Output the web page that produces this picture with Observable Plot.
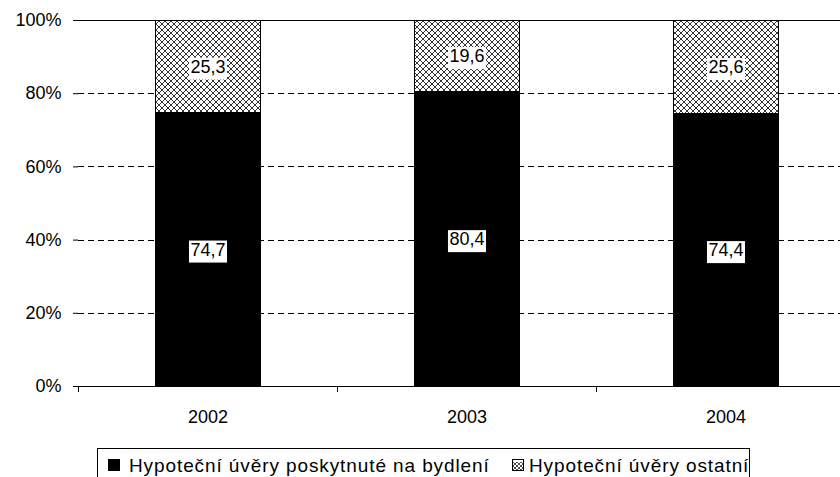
<!DOCTYPE html>
<html><head><meta charset="utf-8">
<script src="https://cdn.jsdelivr.net/npm/d3@7"></script>
<script src="https://cdn.jsdelivr.net/npm/@observablehq/plot@0.6"></script>
<style>
body{margin:0;background:#fff;font-family:"Liberation Sans",Arial,sans-serif;}
#wrap{position:relative;width:840px;height:477px;overflow:hidden;background:#fff}
#legend{position:absolute;left:97px;top:448px;width:653px;height:40px;border:1px solid #000;box-sizing:border-box;}
.lg-sw{position:absolute;top:10px;width:12px;height:12px;box-sizing:border-box;}
.lg-tx{position:absolute;top:6px;font-size:19px;letter-spacing:0.9px;white-space:nowrap;color:#000;line-height:22px;}
</style></head><body>
<div id="wrap"><div id="chart"></div>
<div id="legend">
  <div class="lg-sw" style="left:10px;background:#000;"></div>
  <div class="lg-tx" id="lt0" style="left:31px;"></div>
  <div class="lg-sw" style="left:414px;border:1px solid #000;overflow:hidden;"><svg width="12" height="12"><defs><pattern id="hatchL" width="4" height="4" patternUnits="userSpaceOnUse"><rect width="4" height="4" fill="#fff"/><path d="M0,0L4,4M4,0L0,4" stroke="#000" stroke-width="0.7"/></pattern></defs><rect width="12" height="12" fill="url(#hatchL)"/></svg></div>
  <div class="lg-tx" id="lt1" style="left:431px;"></div>
</div>
</div>
<script>
const years = ["2002", "2003", "2004"];
const seriesNames = ["Hypoteční úvěry poskytnuté na bydlení", "Hypoteční úvěry ostatní"];
const housingValues = [74.7, 80.4, 74.4];
const otherValues = [25.3, 19.6, 25.6];
const yTicks = [0, 20, 40, 60, 80, 100];
const gridTicks = [20, 40, 60, 80];

const rows = [];
years.forEach((y, i) => {
  rows.push({year: y, series: seriesNames[0], value: housingValues[i], mid: housingValues[i] / 2});
  rows.push({year: y, series: seriesNames[1], value: otherValues[i], mid: housingValues[i] + otherValues[i] / 2});
});
const fmt = v => v.toFixed(1).replace(".", ",");

const chart = Plot.plot({
  width: 840, height: 445, marginTop: 20, marginBottom: 59, marginLeft: 78, marginRight: 0,
  style: {fontFamily: "Liberation Sans, Arial, sans-serif", fontSize: "18px", background: "white", color: "black", overflow: "hidden"},
  x: {domain: years, range: [78, 855], paddingInner: 0.595, paddingOuter: 0.2975, align: 0.5, label: null},
  y: {domain: [0, 100], label: null},
  color: {domain: seriesNames, range: ["black", "url(#hatch)"]},
  marks: [
    Plot.ruleY(gridTicks, {stroke: "black", strokeDasharray: "6,4", strokeWidth: 1, shapeRendering: "crispEdges"}),
    Plot.barY(rows, {x: "year", y: "value", fill: "series", order: seriesNames, stroke: "black", strokeWidth: 1, shapeRendering: "crispEdges"}),
    Plot.ruleY([100], {stroke: "black", shapeRendering: "crispEdges"}),
    Plot.ruleY([0], {stroke: "black", shapeRendering: "crispEdges"}),
    Plot.axisY({ticks: yTicks, tickFormat: d => d + "%", tickSize: 5, tickPadding: 12, line: true, fontSize: 18, label: null}),
    Plot.axisX({tickSize: 0, tickPadding: 24, fontSize: 18, label: null}),
    Plot.text(rows, {x: "year", y: "mid", text: d => fmt(d.value), fontSize: 18, fill: "black"})
  ]
});
document.getElementById("chart").appendChild(chart);
document.getElementById("lt0").textContent = seriesNames[0];
document.getElementById("lt1").textContent = seriesNames[1];

const svg = d3.select(chart);
const defs = svg.insert("defs", ":first-child");
const pat = defs.append("pattern").attr("id", "hatch").attr("width", 6).attr("height", 6).attr("patternUnits", "userSpaceOnUse");
pat.append("rect").attr("width", 6).attr("height", 6).attr("fill", "#fff");
pat.append("path").attr("d", "M0,0L6,6M6,0L0,6").attr("stroke", "#000").attr("stroke-width", 0.8);

// band boundary ticks on x axis
const xs = chart.scale("x"), ys = chart.scale("y");
const y0 = ys.apply(0);
const gap = (xs.step - xs.bandwidth) / 2;
const bounds = years.map(v => xs.apply(v) - gap).concat([xs.apply(years[years.length - 1]) + xs.bandwidth + gap]);
svg.append("g").selectAll("line").data(bounds).join("line")
  .attr("x1", d => d).attr("x2", d => d).attr("y1", y0).attr("y2", y0 + 6)
  .attr("stroke", "#000").attr("shape-rendering", "crispEdges");

// white boxes behind value labels
svg.selectAll('g[aria-label="text"] text').each(function () {
  const b = this.getBBox();
  const r = d3.select(this.parentNode).insert("rect", () => this)
    .attr("x", b.x - 1.5).attr("y", b.y + 1).attr("width", b.width + 3).attr("height", b.height + 2)
    .attr("fill", "#fff");
  const t = this.getAttribute("transform");
  if (t) r.attr("transform", t);
});
</script>
</body></html>
